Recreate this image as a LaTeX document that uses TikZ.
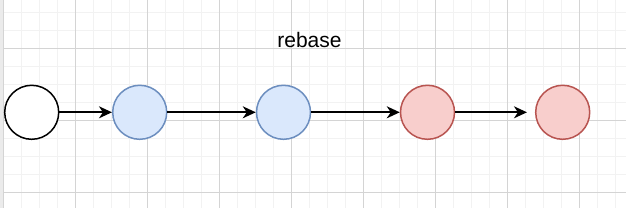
\documentclass[tikz,border=0pt]{standalone}
\usepackage{fontspec}
\setmainfont{Liberation Sans}
\usetikzlibrary{arrows.meta}
\definecolor{minorgrid}{HTML}{F2F2F2}
\definecolor{majorgrid}{HTML}{D4D4D4}
\definecolor{bluefill}{HTML}{DAE8FC}
\definecolor{bluedraw}{HTML}{6C8EBF}
\definecolor{redfill}{HTML}{F8CECC}
\definecolor{reddraw}{HTML}{B85450}
\tikzset{
  commit/.style={circle, minimum size=54pt, inner sep=0pt, line width=1.5pt},
  plain/.style={commit, draw=black, fill=white},
  bluec/.style={commit, draw=bluedraw, fill=bluefill},
  redc/.style={commit, draw=reddraw, fill=redfill},
  link/.style={-{Stealth[length=13pt,width=12pt,inset=4pt]}, line width=1.6pt, black},
}
\begin{document}
\begin{tikzpicture}[x=1pt,y=-1pt]
\useasboundingbox (0,0) rectangle (626,208);
\fill[white] (0,0) rectangle (626,208);
% minor grid
\foreach \x in {21.7,39.7,57.7,93.7,111.7,129.7,165.7,183.7,201.7,237.7,255.7,273.7,309.7,327.7,345.7,381.7,399.7,417.7,453.7,471.7,489.7,525.7,543.7,561.7,597.7,615.7}
  \draw[minorgrid, line width=1pt] (\x,0) -- (\x,208);
\foreach \y in {12.3,30.3,66.3,84.3,102.3,138.3,156.3,174.3}
  \draw[minorgrid, line width=1pt] (0,\y) -- (626,\y);
% major grid
\foreach \x in {3.7,75.7,147.7,219.7,291.7,363.7,435.7,507.7,579.7}
  \draw[majorgrid, line width=1pt] (\x,0) -- (\x,208);
\foreach \y in {48.3,120.3,192.3}
  \draw[majorgrid, line width=1pt] (0,\y) -- (626,\y);
\fill[black!8] (0,0) rectangle (3.2,208);
% title
\node[font=\fontsize{21}{24}\selectfont] (title) at (309.5,40) {rebase};
% commits
\node[plain] (c0) at (31.7,112.3) {};
\node[bluec] (c1) at (139.7,112.3) {};
\node[bluec] (c2) at (283.5,112.3) {};
\node[redc] (c3) at (427.5,112.3) {};
\node[redc] (c4) at (562.7,112.3) {};
\draw[link] (c0) -- (c1);
\draw[link] (c1) -- (c2);
\draw[link] (c2) -- (c3);
\draw[link, shorten >=8pt] (c3) -- (c4);
\end{tikzpicture}
\end{document}
